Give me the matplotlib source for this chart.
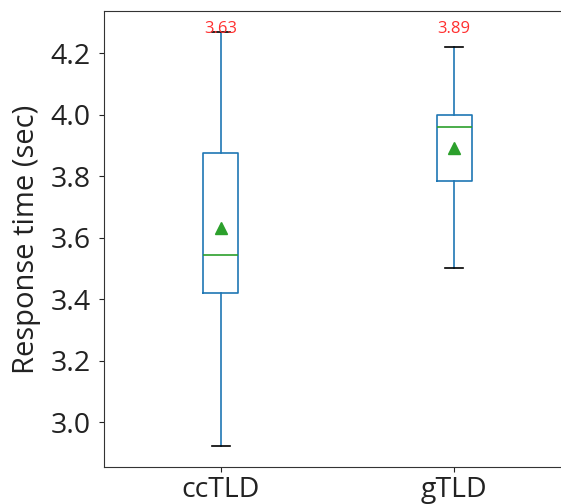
import matplotlib
matplotlib.use("Agg")
import matplotlib.pyplot as plt

plt.rcParams["font.family"] = ["Open Sans", "DejaVu Sans"]

categories = ["ccTLD", "gTLD"]
whislo = [2.922, 3.50]
q1 = [3.42, 3.784]
med = [3.545, 3.959]
q3 = [3.876, 3.998]
whishi = [4.27, 4.221]
means = [3.63, 3.89]
mean_labels = ["3.63", "3.89"]

fig = plt.figure(figsize=(5.61, 5.04), dpi=100)
ax = fig.add_axes([0.1854, 0.0734, 0.8324, 0.9048])

stats = []
for i, c in enumerate(categories):
    stats.append(dict(label=c, whislo=whislo[i], q1=q1[i], med=med[i], q3=q3[i],
                      whishi=whishi[i], mean=means[i], fliers=[]))

ax.bxp(stats, showmeans=True, patch_artist=False,
       boxprops=dict(color="#1f77b4", linewidth=1.2),
       whiskerprops=dict(color="#1f77b4", linewidth=1.2),
       capprops=dict(color="black", linewidth=1.2),
       medianprops=dict(color="#2ca02c", linewidth=1.2),
       meanprops=dict(marker="^", markerfacecolor="#2ca02c", markeredgecolor="#2ca02c", markersize=8.5))

ax.set_xlim(0.5, 2.5)
ax.set_ylim(2.854, 4.337)
ax.set_yticks([3.0, 3.2, 3.4, 3.6, 3.8, 4.0, 4.2])
ax.tick_params(axis="both", labelsize=20.5, colors="#222222")
ax.tick_params(axis="y", pad=6)
ax.tick_params(axis="x", pad=3)
ax.set_ylabel("Response time (sec)", fontsize=21, color="#222222", labelpad=7)
for s in ax.spines.values():
    s.set_color("#333333")
ax.spines["right"].set_visible(False)

for i, lab in enumerate(mean_labels):
    ax.text(i + 1, 4.279, lab, color="#ff3030", fontsize=12, ha="center", va="center")

fig.savefig("out.png", dpi=100)
